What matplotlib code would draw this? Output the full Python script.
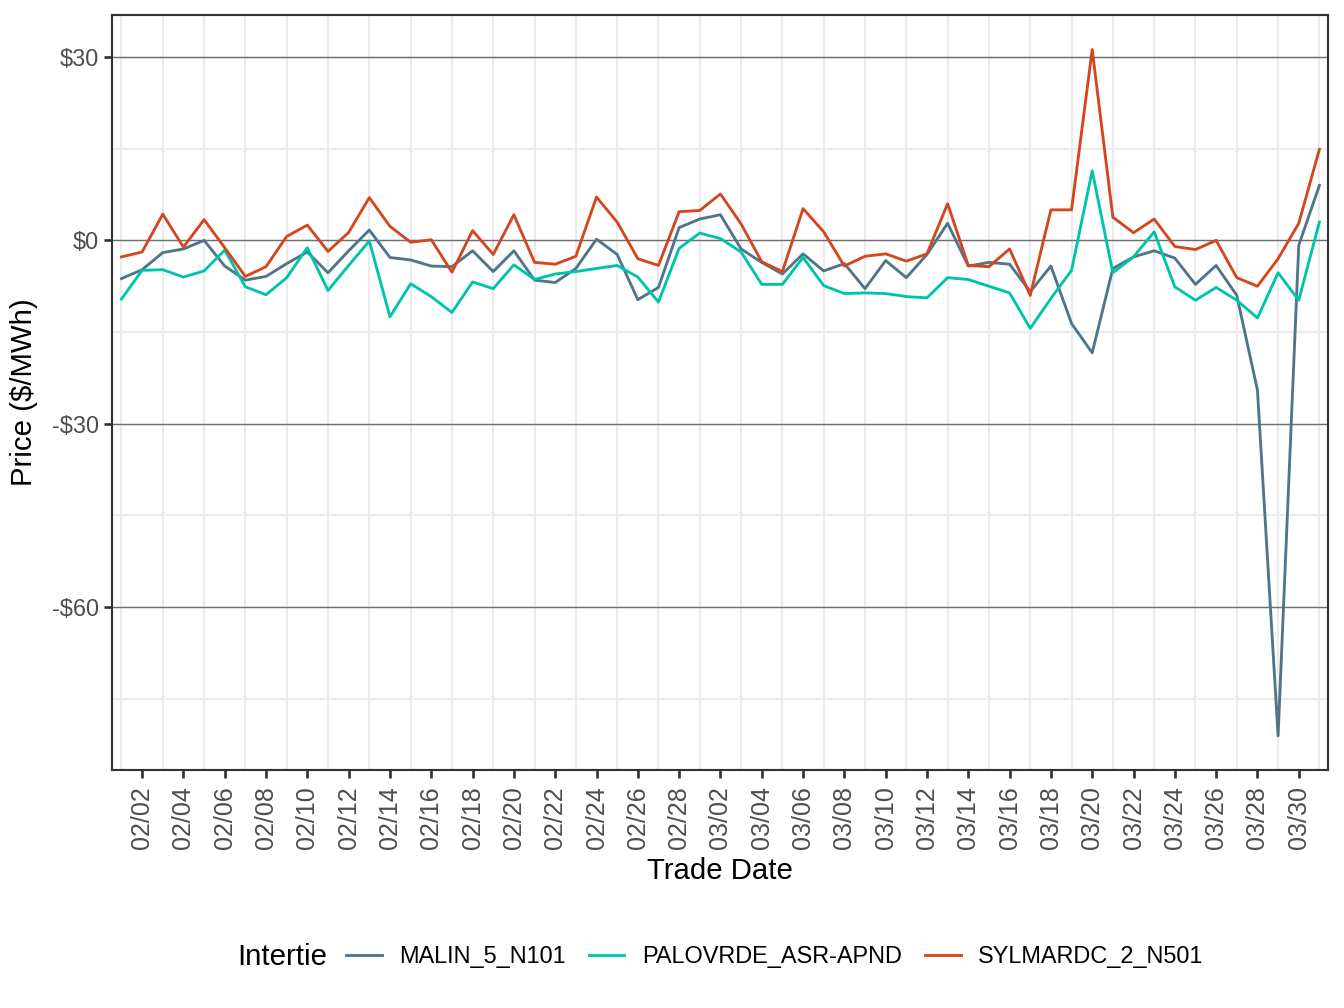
import matplotlib
matplotlib.use("Agg")
import matplotlib.pyplot as plt
import matplotlib.dates as mdates
from matplotlib.ticker import FixedLocator, FuncFormatter
import pandas as pd

plt.rcParams['font.family'] = ['Liberation Sans', 'DejaVu Sans']

dates = pd.date_range("2023-02-01", "2023-03-31", freq="D")

malin = [-6.25, -4.8, -2.0, -1.4, 0.0, -4.2, -6.5, -5.9, -3.8, -1.9,
         -5.3, -1.7, 1.7, -2.8, -3.2, -4.2, -4.3, -1.7, -5.1, -1.7,
         -6.5, -6.9, -4.6, 0.2, -2.3, -9.7, -7.7, 2.1, 3.5, 4.2,
         -1.4, -3.6, -5.5, -2.2, -5.0, -3.8, -7.9, -3.3, -6.1, -2.3,
         2.8, -4.2, -3.6, -3.9, -8.4, -4.2, -13.6, -18.4, -4.6, -2.7,
         -1.7, -2.9, -7.2, -4.1, -9.0, -24.5, -81.1, -0.8, 9.0]

palovrde = [-9.6, -4.9, -4.8, -6.0, -5.0, -1.6, -7.6, -8.9, -6.1, -1.2,
            -8.2, -4.1, -0.1, -12.5, -7.1, -9.2, -11.8, -6.8, -7.9, -4.0,
            -6.4, -5.5, -5.1, -4.6, -4.1, -6.0, -10.1, -1.3, 1.2, 0.3,
            -1.9, -7.2, -7.2, -2.8, -7.4, -8.7, -8.6, -8.7, -9.2, -9.4,
            -6.1, -6.4, -7.5, -8.6, -14.4, -9.5, -4.9, 11.4, -5.3, -2.7,
            1.4, -7.6, -9.8, -7.7, -9.8, -12.7, -5.3, -9.8, 3.0]

sylmar = [-2.7, -1.9, 4.3, -1.1, 3.4, -1.2, -5.9, -4.3, 0.65, 2.5,
          -1.8, 1.3, 7.0, 2.3, -0.3, 0.1, -5.2, 1.6, -2.3, 4.2,
          -3.6, -3.9, -2.6, 7.1, 3.0, -3.0, -4.1, 4.7, 4.9, 7.6,
          2.7, -3.5, -5.1, 5.2, 1.4, -4.2, -2.6, -2.2, -3.4, -2.2,
          6.0, -4.1, -4.3, -1.4, -9.0, 5.0, 5.0, 31.25, 3.8, 1.25,
          3.5, -1.0, -1.5, 0.0, -6.1, -7.5, -3.0, 2.8, 14.9]

series = ["MALIN_5_N101", "PALOVRDE_ASR-APND", "SYLMARDC_2_N501"]
colors = ["#4f758b", "#00c4aa", "#d4461e"]
y_major = [30, 0, -30, -60]
y_minor = [15, -15, -45, -75]

fig = plt.figure(figsize=(7, 5.25), dpi=192)
ax = fig.add_axes([112 / 1344, 1 - 770 / 1008, (1328 - 112) / 1344, (770 - 15) / 1008])

for vals, name, col in zip([malin, palovrde, sylmar], series, colors):
    ax.plot(dates, vals, color=col, lw=1.07, label=name, zorder=3)

# x axis: ticks every 2 days, minor grid on the odd days
ax.set_xlim(dates[0] - pd.Timedelta(hours=11), dates[-1] + pd.Timedelta(hours=10))
ax.xaxis.set_major_locator(FixedLocator(mdates.date2num(dates[1::2])))
ax.xaxis.set_major_formatter(mdates.DateFormatter("%m/%d"))
ax.xaxis.set_minor_locator(FixedLocator(mdates.date2num(dates[0::2])))

ax.set_ylim(-86.7, 36.9)
ax.yaxis.set_major_locator(FixedLocator(y_major))
ax.yaxis.set_minor_locator(FixedLocator(y_minor))
ax.yaxis.set_major_formatter(FuncFormatter(lambda v, p: f"-${abs(v):.0f}" if v < 0 else f"${v:.0f}"))

ax.grid(which="minor", color="#ebebeb", lw=0.8, zorder=0)
ax.grid(which="major", axis="y", color="#6e6e6e", lw=0.55, zorder=1)
ax.set_axisbelow(True)

ax.tick_params(which="major", length=3.0, width=1.0, color="#333333",
               labelsize=8.8, labelcolor="#4d4d4d", pad=2)
ax.tick_params(which="minor", length=0)
ax.tick_params(axis="x", labelrotation=90, labelsize=9.4, pad=3)
for s in ax.spines.values():
    s.set_color("#333333")
    s.set_linewidth(0.8)

ax.set_xlabel("Trade Date", fontsize=11, labelpad=3)
ax.set_ylabel("Price ($/MWh)", fontsize=11, labelpad=5)

handles, labels = ax.get_legend_handles_labels()
fig.legend(handles, labels, loc="center", bbox_to_anchor=(775 / 1344, 1 - 957 / 1008),
           ncol=3, frameon=False, fontsize=8.8, handlelength=1.5,
           handletextpad=0.75, columnspacing=1.0)
fig.text(327 / 1344, 1 - 957 / 1008, "Intertie", fontsize=11, ha="right", va="center")

fig.savefig("out.png", dpi=192)
